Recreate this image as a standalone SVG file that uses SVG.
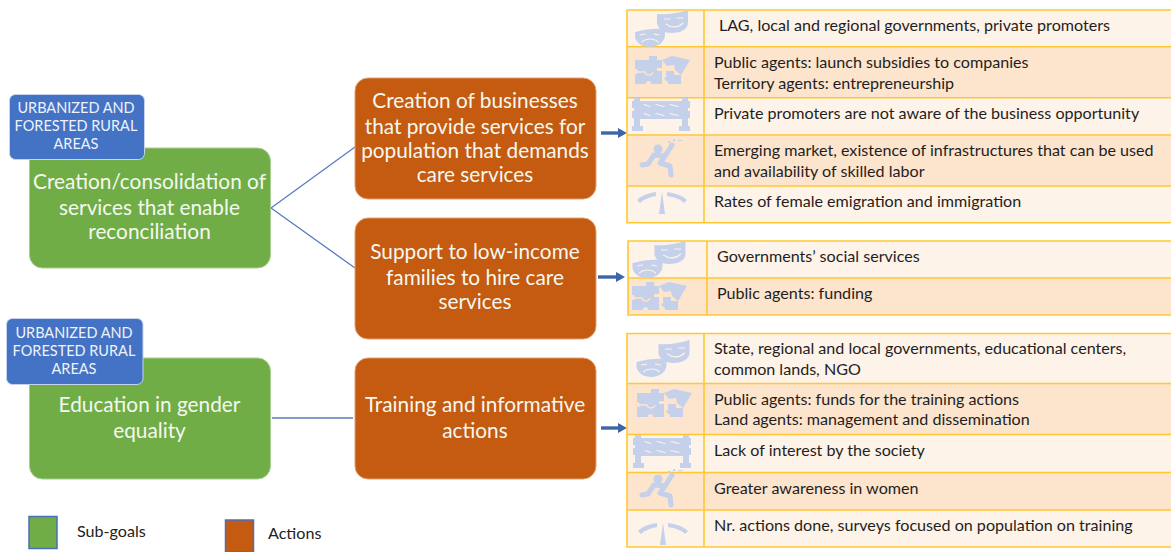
<svg xmlns="http://www.w3.org/2000/svg" width="1171" height="552" viewBox="0 0 1171 552">
<style>
text{font-family:"Lato","Liberation Sans",sans-serif}
.t{font-size:16.1px;fill:#1e1e1e}
.n{font-size:20.8px;fill:#f4f8f0;text-anchor:middle}
.b{font-size:14.5px;fill:#eef2fa;text-anchor:middle}
.l{font-size:16.1px;fill:#222}
.g{fill:#70ad47;stroke:#a9cd90;stroke-width:1}
.o{fill:#c55a11;stroke:#e0a070;stroke-width:1}
.bl{fill:#4472c4;stroke:#c6d3ec;stroke-width:1}
.r1{fill:#fef3e8}
.r2{fill:#fde4cc}
.gr{fill:none;stroke:#ffc832;stroke-width:1.6}
.i{fill:#c5d0ea}
.s{fill:none;stroke:#c5d0ea;stroke-width:5;stroke-linejoin:round;stroke-linecap:round}
.c1{fill:none;stroke:#fef3e8;stroke-width:1.1;stroke-linecap:round}
.c2{fill:none;stroke:#fde4cc;stroke-width:1.3}
.ln{stroke:#5a7cbc;stroke-width:1.3;fill:none}
.ar{stroke:#3f65a9;stroke-width:3.4;fill:none}
.ah{fill:#3f65a9}
</style>
<defs>
<g id="mask">
<path class="i" d="M22 4C32 5 44 3 53 0V13C53 19 46 23 37 23 29 23 24 20 22 14Z"/>
<path class="c1" d="M29 9h6M42 8h6M31 14C36 18 43 18 48 13"/>
<path class="i" d="M0 22C10 19 21 18 30 19V25C30 32 23 37 15 37 7 37 1 33 0 27Z"/>
<path class="c1" d="M5 25l5-1M19 24l5 1M7 32C11 28 19 28 23 32"/>
</g>
<g id="puzzle">
<path class="i" d="M0 4H14V0H22V4H27V12H22V15H27V28H16C17 24 10 24 11 28H0V18C4 19 4 12 0 13Z"/>
<path class="c2" d="M0 16H10C11 20 17 20 18 16"/>
<path class="i" d="M27 4L37 0 55 4 46 19 40 14 39 9 32 10Z"/>
<path class="i" d="M31 15H39V19H46V28H33C34 25 29 24 29 22 31 22 32 20 31 19Z"/>
</g>
<g id="barrier">
<path class="i" d="M2 0H8V3H50V0H56V3H58V10H56V13H58V20H56V28H58V33H47V28H50V21H8V28H11V33H0V28H2V20H0V13H2V10H0V3H2Z"/>
<path class="c1" d="M12 6.500l6 2M24 6.500l8 2M38 6.500l8 2M12 15.500l6 2M24 15.500l8 2M38 15.500l8 2" stroke-width="2"/>
</g>
<g id="runner">
<circle class="i" cx="18" cy="10" r="4.500"/>
<path class="s" d="M32 6L25 17 14 16 8 25 2 26"/>
<path class="s" d="M25 17L20 24 30 27 31 36"/>
<path class="i" d="M33 0h2v2h-2zM28 2h2v2h-2zM38 1h4v1h-4z"/>
</g>
<g id="gauge">
<path class="i" d="M0 8C5 3 12 1 19 0V4C13 5 7 7 3 11Z"/>
<path class="i" d="M30 0C37 1 45 3 50 8L47 11C43 7 37 5 30 4Z"/>
<path class="i" d="M25 0L28 22H22Z"/>
</g>
</defs>

<g id="connectors">
<path class="ln" d="M271 208L355 147M271 208L355 268M272 418H353"/>
<path class="ar" d="M601 133H620"/><path class="ah" d="M618 128L627 133 618 138Z"/>
<path class="ar" d="M598 277H618"/><path class="ah" d="M616 272L625 277 616 282Z"/>
<path class="ar" d="M601 428H620"/><path class="ah" d="M618 423L627 428 618 433Z"/>
</g>

<g id="subgoal-1">
<rect class="g" x="29.500" y="148" width="241" height="120" rx="13"/>
<text class="n" x="149.500" y="188.500">Creation/consolidation of</text>
<text class="n" x="149.500" y="214.500">services that enable</text>
<text class="n" x="149.500" y="238.500">reconciliation</text>
</g>
<g id="area-1">
<rect class="bl" x="9.500" y="94.500" width="135" height="65" rx="6"/>
<text class="b" x="76" y="113">URBANIZED AND</text>
<text class="b" x="76" y="131">FORESTED RURAL</text>
<text class="b" x="76" y="149">AREAS</text>
</g>
<g id="subgoal-2">
<rect class="g" x="29.500" y="358" width="241" height="121" rx="13"/>
<text class="n" x="149.500" y="411.500">Education in gender</text>
<text class="n" x="149.500" y="437.500">equality</text>
</g>
<g id="area-2">
<rect class="bl" x="6.500" y="318.500" width="136.500" height="66" rx="6"/>
<text class="b" x="74" y="338">URBANIZED AND</text>
<text class="b" x="74" y="356">FORESTED RURAL</text>
<text class="b" x="74" y="374">AREAS</text>
</g>

<g id="action-1">
<rect class="o" x="355" y="78" width="241" height="121" rx="13"/>
<text class="n" x="475" y="107.500">Creation of businesses</text>
<text class="n" x="475" y="133.500">that provide services for</text>
<text class="n" x="475" y="157.500">population that demands</text>
<text class="n" x="475" y="181.500">care services</text>
</g>
<g id="action-2">
<rect class="o" x="355" y="218" width="241" height="121" rx="13"/>
<text class="n" x="475" y="258.500">Support to low-income</text>
<text class="n" x="475" y="284.500">families to hire care</text>
<text class="n" x="475" y="308.500">services</text>
</g>
<g id="action-3">
<rect class="o" x="355" y="358" width="241" height="121" rx="13"/>
<text class="n" x="475" y="411.500">Training and informative</text>
<text class="n" x="475" y="437.500">actions</text>
</g>

<g id="table-1">
<rect class="r1" x="627" y="10" width="544" height="36.700"/>
<rect class="r2" x="627" y="46.700" width="544" height="51"/>
<rect class="r1" x="627" y="97.700" width="544" height="37.300"/>
<rect class="r2" x="627" y="135" width="544" height="51"/>
<rect class="r1" x="627" y="186" width="544" height="36.700"/>
<path class="gr" d="M1171 10H627V222.700H1171M627 46.700H1171M627 97.700H1171M627 135H1171M627 186H1171M704 10V222.700"/>
<use href="#mask" x="635" y="10"/>
<use href="#puzzle" x="635" y="56"/>
<use href="#barrier" x="632" y="98"/>
<use href="#runner" x="640" y="139"/>
<use href="#gauge" x="637" y="192"/>
<text class="t" x="719" y="31">LAG, local and regional governments, private promoters</text>
<text class="t" x="714" y="68">Public agents: launch subsidies to companies</text>
<text class="t" x="714" y="89">Territory agents: entrepreneurship</text>
<text class="t" x="714" y="119">Private promoters are not aware of the business opportunity</text>
<text class="t" x="714" y="156">Emerging market, existence of infrastructures that can be used</text>
<text class="t" x="714" y="177">and availability of skilled labor</text>
<text class="t" x="714" y="207">Rates of female emigration and immigration</text>
</g>
<g id="table-2">
<rect class="r1" x="628" y="241" width="543" height="37"/>
<rect class="r2" x="628" y="278" width="543" height="37"/>
<path class="gr" d="M1171 241H628V315H1171M628 278H1171M707 241V315"/>
<use href="#mask" x="632.500" y="241"/>
<use href="#puzzle" x="632" y="282"/>
<text class="t" x="717" y="262">Governments’ social services</text>
<text class="t" x="717" y="299">Public agents: funding</text>
</g>
<g id="table-3">
<rect class="r1" x="627" y="333.500" width="544" height="50"/>
<rect class="r2" x="627" y="383.500" width="544" height="51"/>
<rect class="r1" x="627" y="434.500" width="544" height="38"/>
<rect class="r2" x="627" y="472.500" width="544" height="37.500"/>
<rect class="r1" x="627" y="510" width="544" height="37"/>
<path class="gr" d="M1171 333.500H627V547H1171M627 383.500H1171M627 434.500H1171M627 472.500H1171M627 510H1171M704 333.500V547"/>
<use href="#mask" x="636.500" y="340"/>
<use href="#puzzle" x="637" y="389"/>
<use href="#barrier" x="633" y="435"/>
<use href="#runner" x="640" y="469"/>
<use href="#gauge" x="638" y="523"/>
<text class="t" x="714" y="354">State, regional and local governments, educational centers,</text>
<text class="t" x="714" y="375">common lands, NGO</text>
<text class="t" x="714" y="405">Public agents: funds for the training actions</text>
<text class="t" x="714" y="425">Land agents: management and dissemination</text>
<text class="t" x="714" y="456">Lack of interest by the society</text>
<text class="t" x="714" y="494">Greater awareness in women</text>
<text class="t" x="714" y="531">Nr. actions done, surveys focused on population on training</text>
</g>

<g id="legend-subgoals">
<rect x="29" y="516.500" width="28" height="32" fill="#70ad47" stroke="#4a6fb5" stroke-width="1.500"/>
<text class="l" x="77" y="537">Sub-goals</text>
</g>
<g id="legend-actions">
<rect x="225.500" y="520" width="28" height="32" fill="#c55a11" stroke="#4a6fb5" stroke-width="1.500"/>
<text class="l" x="268" y="539">Actions</text>
</g>
</svg>
